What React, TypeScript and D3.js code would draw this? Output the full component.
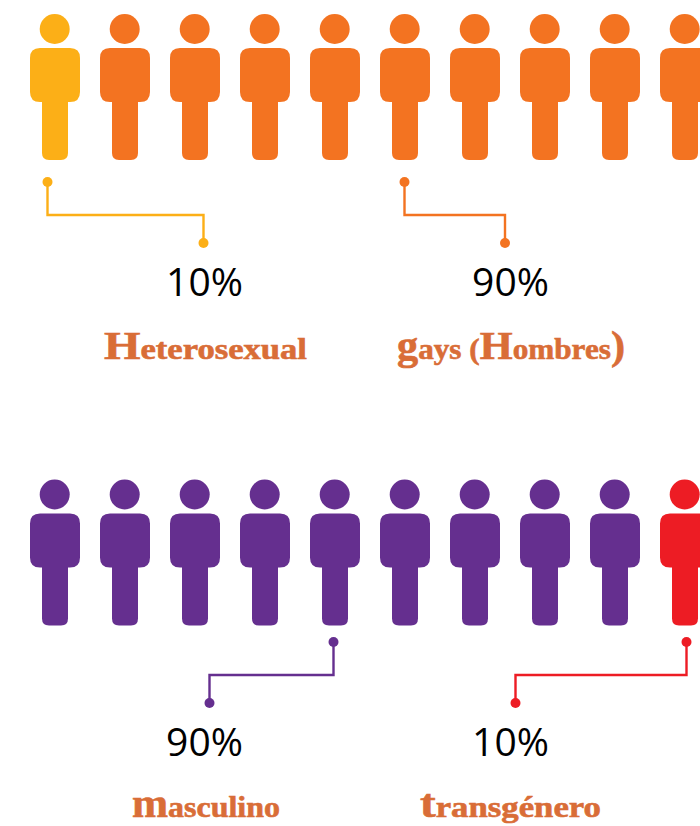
import React from "react";
import * as d3 from "d3";

const personSlots = d3.range(10);
const rowOrangeColors = ["#FCAF17", "#F37321", "#F37321", "#F37321", "#F37321", "#F37321", "#F37321", "#F37321", "#F37321", "#F37321"];
const rowPurpleColors = ["#652F8F", "#652F8F", "#652F8F", "#652F8F", "#652F8F", "#652F8F", "#652F8F", "#652F8F", "#652F8F", "#ED1C24"];
const percentLabels = ["10%", "90%", "90%", "10%"];
const categoryCaps = ["H", "g", "m", "t"];
const categoryTails = ["eterosexual", "ays (", "asculino", "ransgénero"];
const lineColors = ["#FCAF17", "#F37321", "#652F8F", "#ED1C24"];

const WIDTH = 700;
const HEIGHT = 826;
const x = d3.scaleLinear().domain([0, 9]).range([55, 685]);
const rowTops = [14, 479.5];

function bodyPath(cx: number, top: number) {
  const p = d3.path();
  const bx0 = cx - 25, bx1 = cx + 25, by0 = top + 34, by1 = top + 88;
  const lx0 = cx - 13, lx1 = cx + 13, ly1 = top + 146;
  const r = 10, lr = 7;
  p.moveTo(bx0 + r, by0);
  p.lineTo(bx1 - r, by0);
  p.quadraticCurveTo(bx1, by0, bx1, by0 + r);
  p.lineTo(bx1, by1 - r);
  p.quadraticCurveTo(bx1, by1, bx1 - r, by1);
  p.lineTo(lx1, by1);
  p.lineTo(lx1, ly1 - lr);
  p.quadraticCurveTo(lx1, ly1, lx1 - lr, ly1);
  p.lineTo(lx0 + lr, ly1);
  p.quadraticCurveTo(lx0, ly1, lx0, ly1 - lr);
  p.lineTo(lx0, by1);
  p.lineTo(bx0 + r, by1);
  p.quadraticCurveTo(bx0, by1, bx0, by1 - r);
  p.lineTo(bx0, by0 + r);
  p.quadraticCurveTo(bx0, by0, bx0 + r, by0);
  p.closePath();
  return p.toString();
}

function Person({ cx, top, color }: { cx: number; top: number; color: string }) {
  return (
    <g fill={color}>
      <circle cx={cx - 0.3} cy={top + 15} r={15} />
      <path d={bodyPath(cx, top)} />
    </g>
  );
}

const connectors = [
  { x0: 47.5, y0: 182, ym: 215, x1: 203.5, y1: 243 },
  { x0: 404.5, y0: 182, ym: 215, x1: 505, y1: 243 },
  { x0: 333.5, y0: 642, ym: 675, x1: 209.5, y1: 703 },
  { x0: 686.5, y0: 642, ym: 675, x1: 515.5, y1: 703 },
];

const percentPos = [
  { x: 204.5, y: 296 },
  { x: 510.5, y: 296 },
  { x: 204.5, y: 756 },
  { x: 510.5, y: 756 },
];

const labelPos = [
  { x: 104, y: 359, len: 203 },
  { x: 397, y: 359, len: 228 },
  { x: 132, y: 817.3, len: 148 },
  { x: 420, y: 817.3, len: 181 },
];

const ORANGE_LABEL = "#D96D37";
const serif = "'Liberation Serif', serif";
const CAP_SIZE = 40;
const TAIL_SIZE = 29.5;

function CategoryLabel({ i }: { i: number }) {
  const pos = labelPos[i];
  const common = { fontFamily: serif, fontWeight: 700, fill: ORANGE_LABEL, stroke: ORANGE_LABEL, strokeWidth: 0.6 };
  return (
    <text x={pos.x} y={pos.y} {...common} fontSize={TAIL_SIZE} textLength={pos.len} lengthAdjust="spacingAndGlyphs">
      <tspan fontSize={CAP_SIZE}>{categoryCaps[i]}</tspan>
      <tspan>{categoryTails[i]}</tspan>
      {i === 1 && (
        <>
          <tspan fontSize={CAP_SIZE}>H</tspan>
          <tspan>ombres</tspan>
          <tspan fontSize={CAP_SIZE}>)</tspan>
        </>
      )}
    </text>
  );
}

export default function App() {
  return (
    <svg
      width={WIDTH}
      height={HEIGHT}
      viewBox={`0 0 ${WIDTH} ${HEIGHT}`}
      style={{ position: "absolute", left: 0, top: 0, background: "#fff" }}
    >
      {personSlots.map((i) => (
        <Person key={`o${i}`} cx={x(i)} top={rowTops[0]} color={rowOrangeColors[i]} />
      ))}
      {personSlots.map((i) => (
        <Person key={`p${i}`} cx={x(i)} top={rowTops[1]} color={rowPurpleColors[i]} />
      ))}
      {connectors.map((c, i) => {
        const p = d3.path();
        p.moveTo(c.x0, c.y0);
        p.lineTo(c.x0, c.ym);
        p.lineTo(c.x1, c.ym);
        p.lineTo(c.x1, c.y1);
        return (
          <g key={i}>
            <path d={p.toString()} fill="none" stroke={lineColors[i]} strokeWidth={2.4} />
            <circle cx={c.x0} cy={c.y0} r={5} fill={lineColors[i]} />
            <circle cx={c.x1} cy={c.y1} r={5} fill={lineColors[i]} />
          </g>
        );
      })}
      {percentLabels.map((t, i) => (
        <text
          key={i}
          x={percentPos[i].x}
          y={percentPos[i].y}
          textAnchor="middle"
          fontFamily="'Open Sans', sans-serif"
          fontSize={39}
          fill="#000"
        >
          {t}
        </text>
      ))}
      {categoryCaps.map((_, i) => (
        <CategoryLabel key={i} i={i} />
      ))}
    </svg>
  );
}
